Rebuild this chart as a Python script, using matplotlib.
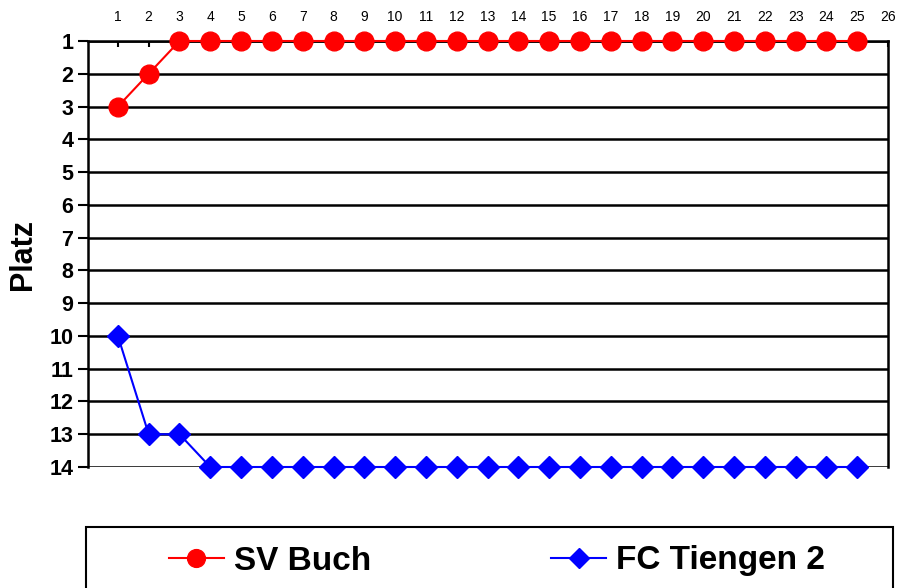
import matplotlib.pyplot as plt
from matplotlib.patches import Rectangle

plt.rcParams['font.family'] = ['Liberation Sans', 'DejaVu Sans']

spieltage = list(range(1, 26))
sv_buch = [3, 2] + [1] * 23
fc_tiengen = [10, 13, 13] + [14] * 22
x_ticks = list(range(1, 27))
y_ticks = list(range(1, 15))

fig = plt.figure(figsize=(9.03, 5.88), dpi=100)
ax = fig.add_axes([88 / 903, 1 - 467 / 588, 800 / 903, 426 / 588])

for y in y_ticks:
    ax.axhline(y, color='black', lw=1.8, zorder=1)

ax.plot(spieltage, sv_buch, color='#ff0000', lw=1.5, marker='o', markersize=13.5,
        label='SV Buch', clip_on=False, zorder=3)
ax.plot(spieltage, fc_tiengen, color='#0000ff', lw=1.5, marker='D', markersize=11,
        label='FC Tiengen 2', clip_on=False, zorder=3)

ax.set_xlim(0.03, 26)
ax.set_ylim(14, 1)
ax.set_xticks(x_ticks)
ax.set_yticks(y_ticks)
ax.xaxis.tick_top()
ax.tick_params(axis='x', direction='in', length=4, width=1.5, labelsize=10, pad=12)
ax.tick_params(axis='y', direction='out', length=7, width=1.5, labelsize=15.5)
for lbl in ax.get_yticklabels():
    lbl.set_fontweight('bold')

for side in ['left', 'right', 'top']:
    ax.spines[side].set_linewidth(1.8)
ax.spines['bottom'].set_visible(False)

ax.set_ylabel('Platz', fontsize=22, fontweight='bold', labelpad=8)

# legend box runs past the bottom edge of the picture
fig.patches.append(Rectangle((86 / 903, -0.05), 807 / 903, 61 / 588 + 0.05,
                             fill=False, edgecolor='black', lw=1.5,
                             transform=fig.transFigure, figure=fig))

leg = fig.legend(loc='center', ncol=2, bbox_to_anchor=(497 / 903, 1 - 561 / 588),
                 prop={'size': 24, 'weight': 'bold'}, handlelength=1.65,
                 handletextpad=0.3, columnspacing=5.4, frameon=False,
                 markerscale=0.95)

fig.savefig('out.png', dpi=100)
